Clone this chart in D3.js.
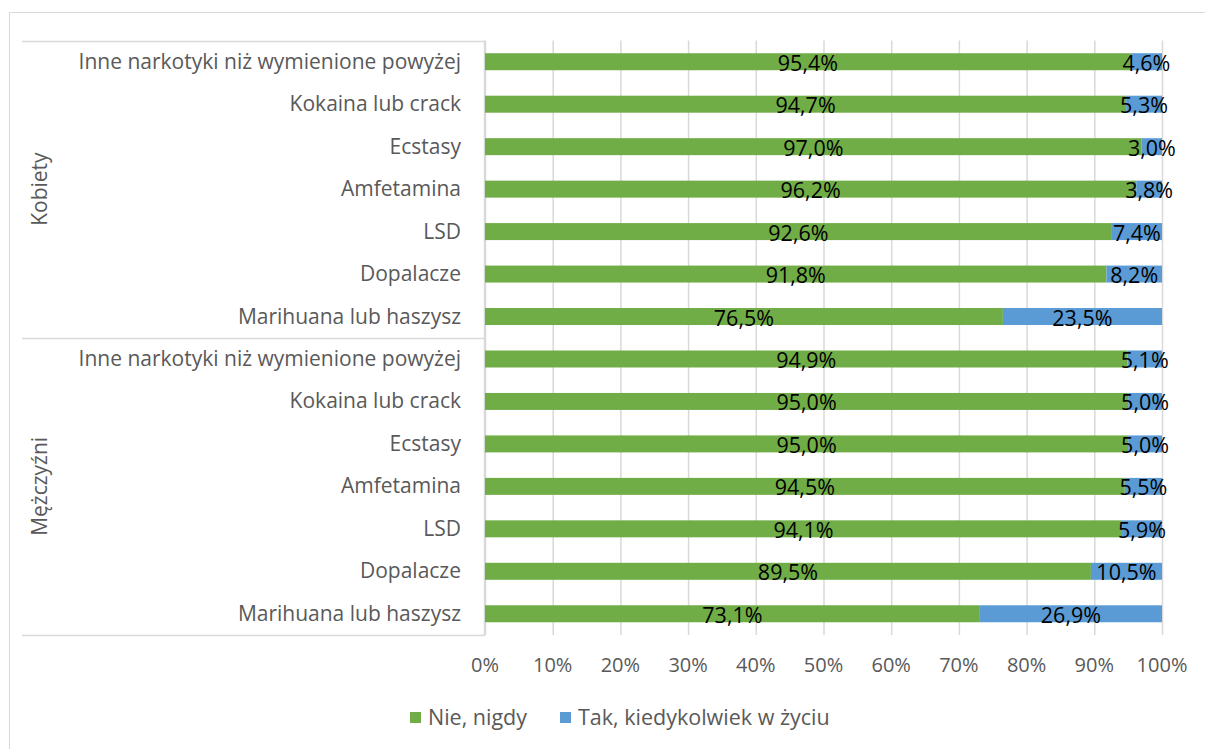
<!DOCTYPE html>
<html><head><meta charset="utf-8">
<script src="https://cdn.jsdelivr.net/npm/d3@7"></script>
<style>body{margin:0;background:#fff;} svg{display:block;}</style>
</head><body>
<svg id="c" width="1205" height="749"></svg>
<script>
const drugs = ["Inne narkotyki niż wymienione powyżej","Kokaina lub crack","Ecstasy","Amfetamina","LSD","Dopalacze","Marihuana lub haszysz"];
const groups = ["Kobiety","Mężczyźni"];
const nieKobiety = [95.4,94.7,97.0,96.2,92.6,91.8,76.5];
const takKobiety = [4.6,5.3,3.0,3.8,7.4,8.2,23.5];
const nieMezczyzni = [94.9,95.0,95.0,94.5,94.1,89.5,73.1];
const takMezczyzni = [5.1,5.0,5.0,5.5,5.9,10.5,26.9];
const seriesNames = ["Nie, nigdy","Tak, kiedykolwiek w życiu"];
const colors = ["#70AD47","#5B9BD5"];
const ticks = [0,10,20,30,40,50,60,70,80,90,100];

const rows = [];
drugs.forEach((d,i)=>rows.push({key:"K"+i, label:d, group:0, nie:nieKobiety[i], tak:takKobiety[i]}));
drugs.forEach((d,i)=>rows.push({key:"M"+i, label:d, group:1, nie:nieMezczyzni[i], tak:takMezczyzni[i]}));

const svg = d3.select("#c");
const font = "'Open Sans', sans-serif";
const L = 485, R = 1162, T = 40.5, B = 635;
const x = d3.scaleLinear().domain([0,100]).range([L,R]);
const y = d3.scaleBand().domain(rows.map(r=>r.key)).range([T,B]).paddingInner(0.6).paddingOuter(0.3);

// outer border
svg.append("rect").attr("x",9.5).attr("y",12.5).attr("width",1205).attr("height",760)
  .attr("fill","none").attr("stroke","#d9d9d9");

// gridlines
svg.append("g").selectAll("line").data(ticks).join("line")
  .attr("x1",d=>x(d)+0.5).attr("x2",d=>x(d)+0.5).attr("y1",T).attr("y2",B)
  .attr("stroke","#d9d9d9").attr("stroke-width",1.5);

// group separators
const ySep = [T, (y("K6")+y.bandwidth() + y("M0"))/2, B];
svg.append("g").selectAll("line").data(ySep).join("line")
  .attr("x1",22).attr("x2",L).attr("y1",d=>Math.round(d)+0.5).attr("y2",d=>Math.round(d)+0.5)
  .attr("stroke","#d9d9d9").attr("stroke-width",1.5);
svg.append("line").attr("x1",L-0.5).attr("x2",L-0.5).attr("y1",T).attr("y2",B)
  .attr("stroke","#d9d9d9").attr("stroke-width",1.5);

// bars
const bars = svg.append("g");
rows.forEach(r=>{
  const segs = [{v0:0,v1:r.nie,c:colors[0]},{v0:r.nie,v1:100,c:colors[1]}];
  const vals = [r.nie, r.tak];
  segs.forEach((s,j)=>{
    bars.append("rect").attr("x",x(s.v0)).attr("width",x(s.v1)-x(s.v0))
      .attr("y",y(r.key)).attr("height",y.bandwidth()).attr("fill",s.c);
  });
  segs.forEach((s,j)=>{
    bars.append("text").attr("x",(x(s.v0)+x(s.v1))/2).attr("y",y(r.key)+y.bandwidth()+0.5)
      .attr("text-anchor","middle").attr("font-family",font).attr("font-size",21.5)
      .attr("fill","#000").text(vals[j].toFixed(1).replace(".",",")+"%");
  });
});

// category labels
svg.append("g").selectAll("text").data(rows).join("text")
  .attr("x",461).attr("y",r=>y(r.key)+y.bandwidth()/2+7)
  .attr("text-anchor","end").attr("font-family",font).attr("font-size",21)
  .attr("fill","#595959").text(r=>r.label);

// group labels
groups.forEach((g,i)=>{
  const yc = (ySep[i]+ySep[i+1])/2;
  svg.append("text").attr("transform",`translate(47,${yc}) rotate(-90)`)
    .attr("text-anchor","middle").attr("font-family",font).attr("font-size",21)
    .attr("fill","#595959").text(g);
});

// x axis labels
svg.append("g").selectAll("text").data(ticks).join("text")
  .attr("x",d=>x(d)).attr("y",672).attr("text-anchor","middle")
  .attr("font-family",font).attr("font-size",20).attr("fill","#595959").text(d=>d+"%");

// legend
const leg = svg.append("g");
const legX = [410,560];
seriesNames.forEach((n,i)=>{
  leg.append("rect").attr("x",legX[i]).attr("y",712).attr("width",11).attr("height",11).attr("fill",colors[i]);
  leg.append("text").attr("x",legX[i]+18).attr("y",725).attr("font-family",font).attr("font-size",21.5)
    .attr("fill","#595959").text(n);
});
</script>
</body></html>
